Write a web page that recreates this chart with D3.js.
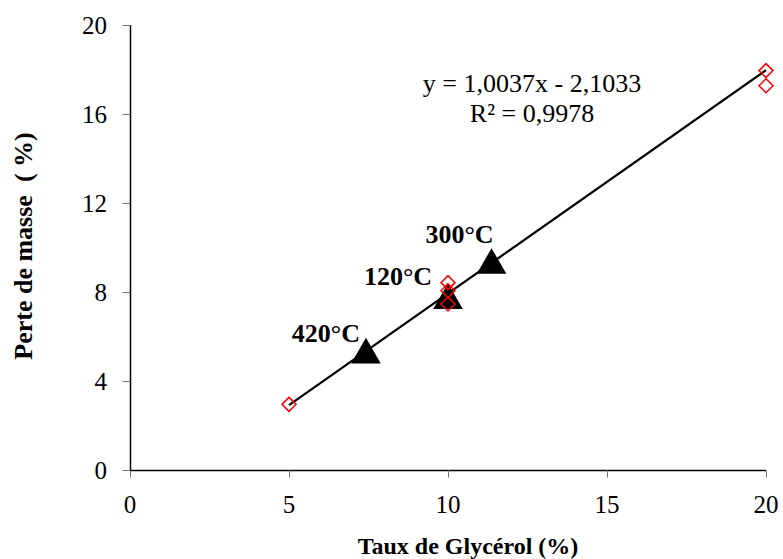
<!DOCTYPE html>
<html><head><meta charset="utf-8">
<script src="https://cdn.jsdelivr.net/npm/d3@7"></script>
<style>body{margin:0;background:#fff}svg{display:block}</style>
</head><body>
<svg id="c" width="783" height="559" font-family="Liberation Serif, Times New Roman, serif"></svg>
<script>
const xTicks = [0, 5, 10, 15, 20];
const yTicks = [0, 4, 8, 12, 16, 20];
const measuredX = [5, 10, 10, 10, 20, 20];
const measuredY = [2.95, 8.42, 8.06, 7.46, 17.95, 17.27];
const tempX = [7.42, 10.0, 11.37];
const tempY = [5.17, 7.62, 9.2];
const tempLabels = ["420°C", "120°C", "300°C"];
const slope = 1.0037, intercept = -2.1033;
const fitRange = [5, 20];
const eqText = ["y = 1,0037x - 2,1033", "R² = 0,9978"];

const svg = d3.select("#c");
const x = d3.scaleLinear().domain([0, 20]).range([130, 766]);
const y = d3.scaleLinear().domain([0, 20]).range([470, 25]);

// axes (lines and ticks from d3 axes, labels drawn as plain text)
const gx = svg.append("g").attr("transform", "translate(0,470.5)")
  .call(d3.axisBottom(x).tickValues(xTicks).tickSize(7).tickFormat(""));
const gy = svg.append("g").attr("transform", "translate(130.5,0)")
  .call(d3.axisLeft(y).tickValues(yTicks).tickSize(8).tickFormat(""));
[gx, gy].forEach(g => {
  g.select(".domain").attr("stroke", "#000").attr("stroke-width", 1.5);
  g.selectAll(".tick line").attr("stroke", "#777").attr("stroke-width", 1);
  g.selectAll(".tick text").remove();
});
gx.select(".domain").attr("d", `M${x(0)},0H${x(20)}`);
gy.select(".domain").attr("d", `M0,${y(0)}V${y(20)}`);

svg.append("g").selectAll("text").data(xTicks).join("text")
  .attr("x", d => x(d)).attr("y", 513).attr("text-anchor", "middle")
  .attr("font-size", 25).attr("fill", "#000").text(d => d);
svg.append("g").selectAll("text").data(yTicks).join("text")
  .attr("x", 107).attr("y", d => y(d) + 8.5).attr("text-anchor", "end")
  .attr("font-size", 25).attr("fill", "#000").text(d => d);

// trendline
svg.append("line")
  .attr("x1", x(fitRange[0])).attr("y1", y(slope * fitRange[0] + intercept))
  .attr("x2", x(fitRange[1])).attr("y2", y(slope * fitRange[1] + intercept))
  .attr("stroke", "#000").attr("stroke-width", 2.2);

// triangles
const tri = d3.symbol().type(d3.symbolTriangle).size(380);
svg.append("g").selectAll("path").data(tempX.map((d, i) => [d, tempY[i]]))
  .join("path")
  .attr("transform", d => `translate(${x(d[0])},${y(d[1])})`)
  .attr("d", tri).attr("fill", "#000");

// measured diamonds (drawn on top)
const dsz = 7;
svg.append("g").selectAll("path").data(measuredX.map((d, i) => [d, measuredY[i]]))
  .join("path")
  .attr("d", d => `M${x(d[0])},${y(d[1]) - dsz}L${x(d[0]) + dsz},${y(d[1])}L${x(d[0])},${y(d[1]) + dsz}L${x(d[0]) - dsz},${y(d[1])}Z`)
  .attr("fill", "none").attr("stroke", "#f00").attr("stroke-width", 1.5);

// temperature labels
const labOff = [[-40, -13], [-50, -15], [-32, -22]];
svg.append("g").selectAll("text").data(tempLabels).join("text")
  .attr("x", (d, i) => x(tempX[i]) + labOff[i][0])
  .attr("y", (d, i) => y(tempY[i]) + labOff[i][1])
  .attr("text-anchor", "middle").attr("font-weight", "bold").attr("font-size", 26)
  .text(d => d);

// equation
svg.append("g").selectAll("text").data(eqText).join("text")
  .attr("x", 532).attr("y", (d, i) => 92 + i * 30)
  .attr("text-anchor", "middle").attr("font-size", 26).text(d => d);

// axis titles
svg.append("text").attr("x", 468).attr("y", 554).attr("text-anchor", "middle")
  .attr("font-weight", "bold").attr("font-size", 24).text("Taux de Glycérol (%)");
svg.append("text").attr("transform", "translate(32,246) rotate(-90)").attr("text-anchor", "middle")
  .attr("font-weight", "bold").attr("font-size", 26).style("white-space", "pre")
  .text("Perte de masse  ( %)");
</script>
</body></html>
